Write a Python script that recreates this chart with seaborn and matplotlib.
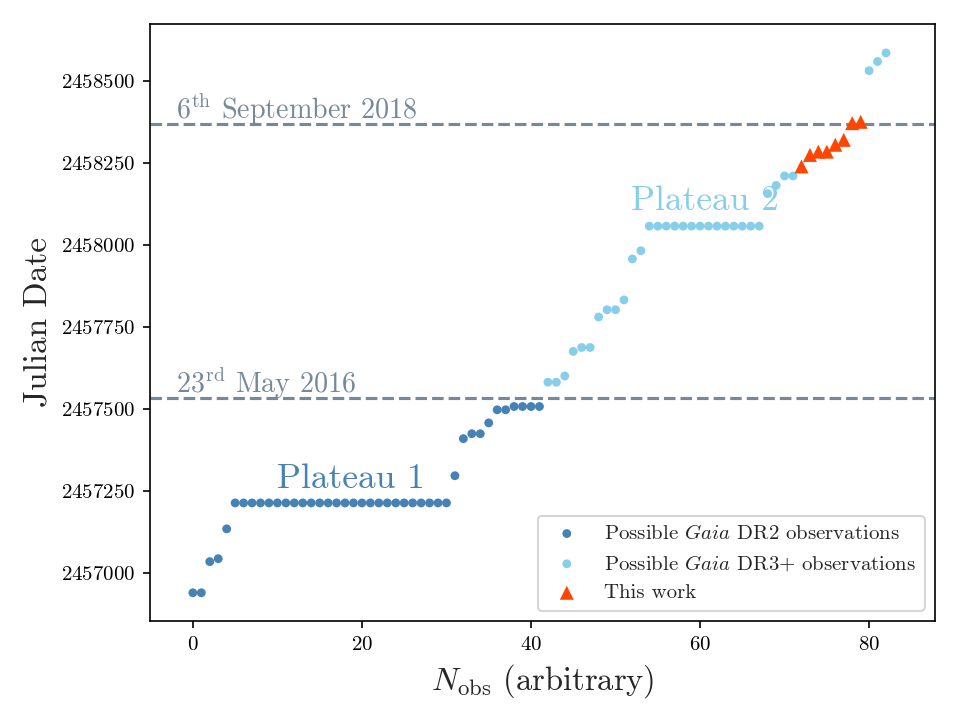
import matplotlib
matplotlib.use("Agg")
import matplotlib.pyplot as plt
import seaborn as sns
import pandas as pd

sns.set_style("ticks")
plt.rcParams['font.family'] = ['cmr10', 'DejaVu Serif']
plt.rcParams['mathtext.fontset'] = 'cm'
plt.rcParams['axes.formatter.use_mathtext'] = True
plt.rcParams['axes.edgecolor'] = 'black'
plt.rcParams['xtick.color'] = 'black'
plt.rcParams['ytick.color'] = 'black'

dr2_n = list(range(0, 42))
dr2_jd = [2456939, 2456939, 2457034, 2457043, 2457134,
          2457213, 2457213, 2457213, 2457213, 2457213, 2457213, 2457213,
          2457213, 2457213, 2457213, 2457213, 2457213, 2457213, 2457213,
          2457213, 2457213, 2457213, 2457213, 2457213, 2457213, 2457213,
          2457213, 2457213, 2457213, 2457213, 2457213,
          2457296, 2457409, 2457424, 2457424, 2457457, 2457497, 2457497,
          2457507, 2457507, 2457507, 2457507]

dr3_n = list(range(42, 72)) + [80, 81, 82]
dr3_jd = [2457581, 2457581, 2457600, 2457675, 2457687, 2457687, 2457780,
          2457802, 2457802, 2457832, 2457957, 2457982,
          2458057, 2458057, 2458057, 2458057, 2458057, 2458057, 2458057,
          2458057, 2458057, 2458057, 2458057, 2458057, 2458057, 2458057,
          2458156, 2458181, 2458210, 2458210,
          2458531, 2458559, 2458585]

work_n = [72, 73, 74, 75, 76, 77, 78, 79]
work_jd = [2458239, 2458274, 2458284, 2458284, 2458305, 2458320, 2458371, 2458375]

dr2_cut_jd = 2457531.5   # 23 May 2016
dr3_cut_jd = 2458367.5   # 6 Sep 2018

dr2 = pd.DataFrame({'n': dr2_n, 'jd': dr2_jd})
dr3 = pd.DataFrame({'n': dr3_n, 'jd': dr3_jd})
work = pd.DataFrame({'n': work_n, 'jd': work_jd})

fig, ax = plt.subplots(figsize=(6.4, 4.8), dpi=150)

ax.axhline(dr3_cut_jd, color='lightslategray', ls='--', lw=1.5, zorder=1)
ax.axhline(dr2_cut_jd, color='lightslategray', ls='--', lw=1.5, zorder=1)

sns.scatterplot(data=dr2, x='n', y='jd', ax=ax, color='steelblue', s=18,
                edgecolor='none', label=r'Possible $\mathit{Gaia}$ DR2 observations', zorder=2)
sns.scatterplot(data=dr3, x='n', y='jd', ax=ax, color='skyblue', s=18,
                edgecolor='none', label=r'Possible $\mathit{Gaia}$ DR3+ observations', zorder=2)
sns.scatterplot(data=work, x='n', y='jd', ax=ax, color='orangered', marker='^', s=45,
                edgecolor='none', label='This work', zorder=3)

ax.text(-2, 2458384, r'6$^{\rm th}$ September 2018', color='lightslategray', fontsize=13.5, va='baseline')
ax.text(-2, 2457549, r'23$^{\rm rd}$ May 2016', color='lightslategray', fontsize=13.5, va='baseline')
ax.text(10, 2457260, 'Plateau 1', color='steelblue', fontsize=17, va='baseline')
ax.text(51.8, 2458107, 'Plateau 2', color='skyblue', fontsize=17, va='baseline')

ax.set_xlim(-5.1, 87.8)
ax.set_ylim(2456853, 2458674)
ax.set_yticks([2457000, 2457250, 2457500, 2457750, 2458000, 2458250, 2458500])
ax.set_xticks([0, 20, 40, 60, 80])
ax.ticklabel_format(axis='y', useOffset=False, style='plain')
ax.set_xlabel(r'$N_{\rm obs}$ (arbitrary)', fontsize=15.6)
ax.set_ylabel('Julian Date', fontsize=16)
ax.legend(loc='lower right', fontsize=10, frameon=True)

fig.subplots_adjust(left=0.156, right=0.974, top=0.967, bottom=0.1375)
fig.savefig('out.png', dpi=150)
